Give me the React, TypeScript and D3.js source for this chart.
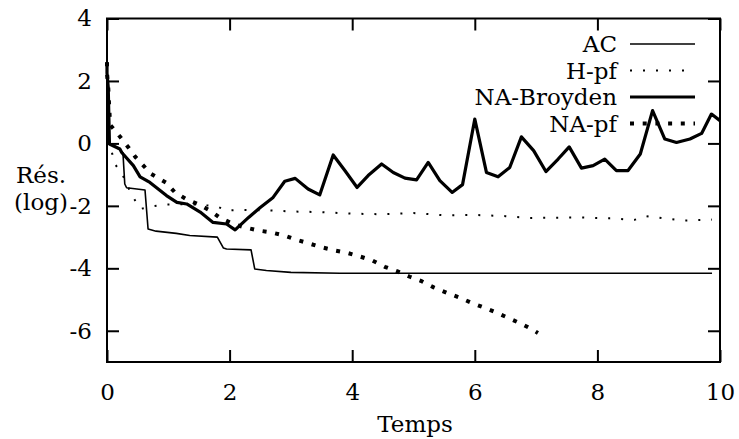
import React, { useEffect, useRef } from 'react'
import * as d3 from 'd3'

const WIDTH = 739
const HEIGHT = 439

// AC (thin solid)
const acTime = [0, 0, 0.02, 0.04, 0.21, 0.26, 0.29, 0.32, 0.62, 0.67, 0.8, 1.13, 1.35, 1.8, 1.9, 1.95, 2.35, 2.41, 2.6, 3.0, 3.8, 9.87]
const acRes = [2.6, 2.25, 1.8, 0, -0.2, -0.3, -1.3, -1.42, -1.49, -2.74, -2.81, -2.88, -2.95, -3.0, -3.35, -3.38, -3.41, -4.02, -4.07, -4.13, -4.16, -4.16]

// H-pf (fine dots)
const hpfTime = [0, 0, 0.02, 0.04, 0.13, 0.26, 0.39, 0.54, 0.73, 0.95, 1.2, 1.5, 1.8, 1.95, 2.2, 2.6, 3.0, 3.5, 4.0, 4.5, 5.0, 5.5, 6.0, 6.5, 6.9, 7.7, 8.2, 8.6, 8.8, 9.1, 9.4, 9.87]
const hpfRes = [2.6, 2.25, 1.8, 0, -0.66, -1.03, -1.6, -2.1, -2.02, -1.96, -1.95, -1.96, -2.02, -2.15, -2.13, -2.14, -2.18, -2.2, -2.25, -2.27, -2.23, -2.3, -2.29, -2.33, -2.39, -2.37, -2.4, -2.45, -2.33, -2.4, -2.47, -2.44]

// NA-Broyden (thick solid)
const broydenTime = [0, 0, 0.02, 0.04, 0.21, 0.24, 0.43, 0.54, 0.7, 0.97, 1.14, 1.3, 1.52, 1.73, 1.95, 2.09, 2.31, 2.5, 2.71, 2.9, 3.07, 3.28, 3.47, 3.69, 3.88, 4.08, 4.26, 4.48, 4.67, 4.86, 5.05, 5.24, 5.43, 5.63, 5.8, 6.0, 6.19, 6.38, 6.57, 6.76, 6.96, 7.16, 7.36, 7.54, 7.74, 7.93, 8.12, 8.31, 8.5, 8.7, 8.9, 9.1, 9.29, 9.51, 9.7, 9.86, 10.0]
const broydenRes = [2.6, 2.25, 1.8, -0.02, -0.18, -0.29, -0.71, -1.07, -1.25, -1.67, -1.89, -1.94, -2.2, -2.53, -2.58, -2.77, -2.37, -2.05, -1.73, -1.21, -1.12, -1.46, -1.65, -0.37, -0.87, -1.41, -1.03, -0.66, -0.93, -1.11, -1.17, -0.61, -1.19, -1.57, -1.32, 0.78, -0.93, -1.07, -0.77, 0.21, -0.23, -0.9, -0.5, -0.11, -0.79, -0.71, -0.5, -0.87, -0.87, -0.34, 1.05, 0.14, 0.03, 0.14, 0.32, 0.94, 0.73]

// NA-pf (thick dots)
const napfTime = [0, 0, 0.02, 0.05, 0.21, 0.35, 0.47, 0.58, 0.72, 0.96, 1.11, 1.29, 1.48, 1.68, 1.85, 2.06, 2.25, 2.47, 2.68, 2.89, 3.08, 3.29, 3.51, 3.72, 3.93, 4.14, 4.33, 4.53, 4.74, 4.94, 5.14, 5.33, 5.54, 5.74, 5.94, 6.14, 6.34, 6.55, 6.74, 6.93, 7.03]
const napfRes = [2.6, 2.25, 1.8, 0.6, 0.22, -0.13, -0.45, -0.68, -0.98, -1.25, -1.57, -1.78, -1.94, -2.15, -2.39, -2.58, -2.69, -2.79, -2.85, -2.95, -3.08, -3.2, -3.33, -3.43, -3.51, -3.63, -3.75, -3.95, -4.1, -4.27, -4.42, -4.61, -4.78, -4.93, -5.1, -5.25, -5.41, -5.59, -5.76, -5.95, -6.07]

const xTicks = [0, 2, 4, 6, 8, 10]
const yTicks = [-6, -4, -2, 0, 2, 4]

const FONT = '"DejaVu Serif", serif'
const FONT_SIZE = 23

const series = [
  { name: 'AC', time: acTime, res: acRes, width: 1.6, dash: null },
  { name: 'H-pf', time: hpfTime, res: hpfRes, width: 2, dash: '2 11' },
  { name: 'NA-Broyden', time: broydenTime, res: broydenRes, width: 3.2, dash: null },
  { name: 'NA-pf', time: napfTime, res: napfRes, width: 4, dash: '4 8.7' },
]

const App = () => {
  const ref = useRef<SVGSVGElement>(null)

  useEffect(() => {
    const svg = d3.select(ref.current)
    svg.selectAll('*').remove()

    const x = d3.scaleLinear().domain([0, 10]).range([107, 720])
    const y = d3.scaleLinear().domain([-7, 4]).range([362, 18.5])

    const line = d3.line<[number, number]>()
      .x((d) => x(d[0]))
      .y((d) => y(d[1]))

    const plot = svg.append('g')
    series.forEach((s) => {
      const pts = s.time.map((t, i) => [t, s.res[i]] as [number, number])
      plot.append('path')
        .attr('d', line(pts))
        .attr('fill', 'none')
        .attr('stroke', 'black')
        .attr('stroke-width', s.width)
        .attr('stroke-linejoin', 'round')
        .attr('stroke-dasharray', s.dash)
    })

    // axes: ticks pointing inward on all four sides
    const fmt = (d) => String(d)
    const bottom = svg.append('g').attr('transform', `translate(0, ${y(-7)})`)
      .call(d3.axisBottom(x).tickValues(xTicks).tickSize(-12).tickPadding(22).tickFormat(fmt))
    const left = svg.append('g').attr('transform', `translate(${x(0)}, 0)`)
      .call(d3.axisLeft(y).tickValues(yTicks).tickSize(-12).tickPadding(15).tickFormat(fmt))
    svg.append('g').attr('transform', `translate(0, ${y(4)})`)
      .call(d3.axisTop(x).tickValues(xTicks).tickSize(-12).tickFormat(() => ''))
    svg.append('g').attr('transform', `translate(${x(10)}, 0)`)
      .call(d3.axisRight(y).tickValues(yTicks).tickSize(-12).tickFormat(() => ''))

    svg.selectAll('.domain').remove()
    svg.selectAll('.tick line').attr('stroke', 'black').attr('stroke-width', 2)
    ;[bottom, left].forEach((g) => g.selectAll('text')
      .attr('font-family', FONT).attr('font-size', FONT_SIZE).attr('fill', 'black'))

    svg.append('rect')
      .attr('x', x(0)).attr('y', y(4))
      .attr('width', x(10) - x(0)).attr('height', y(-7) - y(4))
      .attr('fill', 'none').attr('stroke', 'black').attr('stroke-width', 2)

    // legend
    const legend = svg.append('g')
    series.forEach((s, i) => {
      const ly = 44 + i * 26.5
      legend.append('text')
        .attr('x', 617).attr('y', ly).attr('dy', '0.35em')
        .attr('text-anchor', 'end')
        .attr('font-family', FONT).attr('font-size', FONT_SIZE)
        .text(s.name)
      legend.append('line')
        .attr('x1', 630).attr('x2', 695).attr('y1', ly).attr('y2', ly)
        .attr('stroke', 'black').attr('stroke-width', s.width)
        .attr('stroke-dasharray', s.dash)
    })

    // axis titles
    svg.append('text')
      .attr('x', 415).attr('y', 432).attr('text-anchor', 'middle')
      .attr('font-family', FONT).attr('font-size', FONT_SIZE)
      .text('Temps')
    svg.append('text')
      .attr('x', 41).attr('y', 183).attr('text-anchor', 'middle')
      .attr('font-family', FONT).attr('font-size', FONT_SIZE)
      .text('Rés.')
    svg.append('text')
      .attr('x', 41).attr('y', 210).attr('text-anchor', 'middle')
      .attr('font-family', FONT).attr('font-size', FONT_SIZE)
      .text('(log)')
  }, [])

  return (
    <svg ref={ref} width={WIDTH} height={HEIGHT}
      style={{ position: 'absolute', left: 0, top: 0, background: 'white' }} />
  )
}

export default App
